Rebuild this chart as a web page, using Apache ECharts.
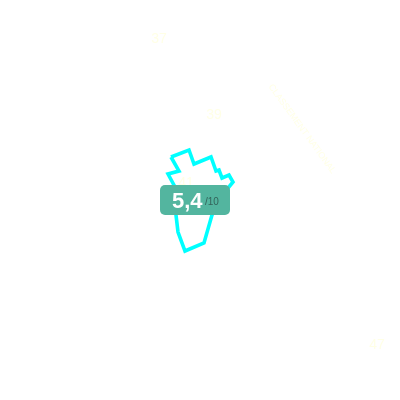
<!DOCTYPE html>
<html><head><meta charset="utf-8">
<style>html,body{margin:0;padding:0;background:#fff}#c{width:400px;height:400px}</style>
<script src="https://cdn.jsdelivr.net/npm/echarts@6/dist/echarts.min.js"></script>
</head><body><div id="c"></div>
<script>
const outlineX = [171,189,194,211,216,219,222,229,233,228,212,204,185,178,176,175,168,179];
const outlineY = [157,150,164,157,171,170,178,175,182,188,215,243,251,232,215,187,174,171];
const labelNames = ["37","39","47","41","CLASSEMENT NATIONAL"];
const labelX = [159,214,377,186,302];
const labelY = [39,115,345,183,129];
const labelRotation = [0,0,0,0,-54];
const labelSize = [14,14,14,14,9];
const scoreValue = "5,4";
const scoreMax = "/10";
const chart = echarts.init(document.getElementById('c'), null, {renderer:'canvas'});
chart.setOption({
  animation:false,
  backgroundColor:'#ffffff',
  grid:{left:0,right:0,top:0,bottom:0},
  xAxis:{type:'value',min:0,max:400,show:false},
  yAxis:{type:'value',min:0,max:400,inverse:true,show:false},
  series:[
    {type:'line',symbol:'none',silent:true,
     data:outlineX.concat(outlineX[0]).map((x,i)=>[x,outlineY.concat(outlineY[0])[i]]),
     lineStyle:{color:'#00ffff',width:3.6,join:'miter'},z:2},
    {type:'scatter',symbolSize:0,silent:true,
     data:labelX.map((x,i)=>({value:[x,labelY[i]],
       label:{show:true,position:'inside',formatter:labelNames[i],rotate:labelRotation[i],
              color:'#ffffe0',fontSize:labelSize[i],fontFamily:'Liberation Sans'}})),z:3}
  ],
  graphic:[
    {type:'rect',left:160,top:185,shape:{width:70,height:30,r:5},style:{fill:'#53b59f'},z:10},
    {type:'text',left:172,top:191,style:{text:scoreValue,fill:'#ffffff',font:'bold 22px "Liberation Sans"'},z:11},
    {type:'text',left:205,top:197,style:{text:scoreMax,fill:'#33635a',font:'10px "Liberation Sans"'},z:11}
  ]
});
</script></body></html>
